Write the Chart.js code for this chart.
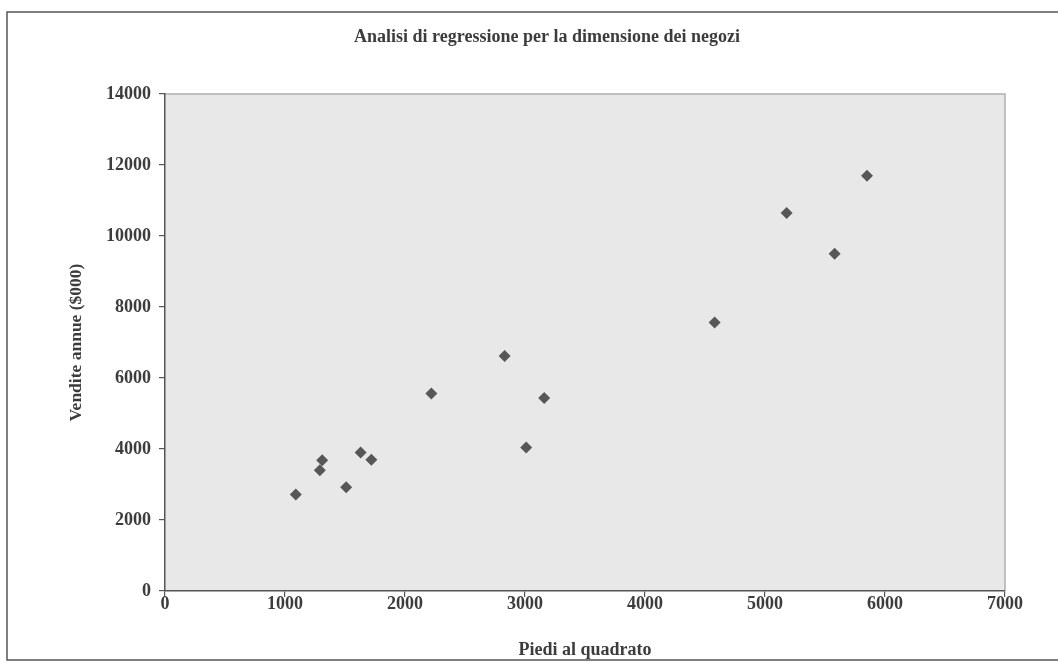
<!DOCTYPE html>
<html>
<head>
<meta charset="utf-8">
<script src="https://cdn.jsdelivr.net/npm/chart.js@4/dist/chart.umd.min.js"></script>
<style>
  html, body { margin: 0; padding: 0; background: #ffffff; }
  #wrap { width: 1058px; height: 665px; position: relative; }
</style>
</head>
<body>
<div id="wrap"><canvas id="chart" width="1058" height="665"></canvas></div>
<script>
// Store size (square feet) and annual sales ($000) for each store
const squareFeet = [1720, 1630, 2830, 5580, 1290, 2220, 1310, 1090, 3160, 1510, 5180, 4580, 5850, 3010];
const annualSales = [3700, 3900, 6620, 9500, 3400, 5560, 3680, 2720, 5440, 2920, 10650, 7560, 11700, 4040];

// Axis ranges and tick steps
const xTicks = { min: 0, max: 7000, step: 1000 };
const yTicks = { min: 0, max: 14000, step: 2000 };

const chartTitle = 'Analisi di regressione per la dimensione dei negozi';
const xTitle = 'Piedi al quadrato';
const yTitle = 'Vendite annue ($000)';

const points = squareFeet.map((x, i) => ({ x: x, y: annualSales[i] }));

const serif = "'Liberation Serif', 'Times New Roman', serif";
const ink = '#3c3c3c';

// Outer frame, grey plot background and the light top/right plot border
const framePlugin = {
  id: 'frame',
  beforeDraw(chart) {
    const { ctx, chartArea: a } = chart;
    ctx.save();
    ctx.fillStyle = '#ffffff';
    ctx.fillRect(0, 0, chart.width, chart.height);
    ctx.strokeStyle = '#555555';
    ctx.lineWidth = 1.5;
    ctx.strokeRect(7, 12, chart.width + 10, 648);
    ctx.fillStyle = '#e8e8e8';
    ctx.fillRect(a.left, a.top, a.right - a.left, a.bottom - a.top);
    ctx.strokeStyle = '#b0b0b0';
    ctx.lineWidth = 1.5;
    ctx.beginPath();
    ctx.moveTo(a.left, a.top);
    ctx.lineTo(a.right, a.top);
    ctx.lineTo(a.right, a.bottom);
    ctx.stroke();
    ctx.restore();
  }
};

new Chart(document.getElementById('chart'), {
  type: 'scatter',
  data: {
    datasets: [{
      label: 'Vendite annue',
      data: points,
      pointStyle: 'rectRot',
      pointRadius: 6,
      pointHoverRadius: 6,
      backgroundColor: '#575757',
      borderColor: '#575757',
      borderWidth: 0
    }]
  },
  options: {
    responsive: false,
    animation: false,
    layout: { padding: { left: 89, right: 53, top: 0, bottom: 0 } },
    plugins: {
      legend: { display: false },
      tooltip: { enabled: false },
      title: {
        display: true,
        text: chartTitle,
        color: ink,
        font: { family: serif, size: 18, weight: 'bold' },
        padding: { top: 26.2, bottom: 46.2 }
      }
    },
    scales: {
      x: {
        type: 'linear',
        min: xTicks.min,
        max: xTicks.max,
        afterFit(scale) { scale.height = 74; },
        ticks: {
          stepSize: xTicks.step,
          color: ink,
          padding: -3,
          font: { family: serif, size: 18, weight: 'bold' },
          callback: v => String(v)
        },
        grid: { drawOnChartArea: false, drawTicks: true, tickLength: 6, color: '#555555', lineWidth: 1.2 },
        border: { color: '#555555', width: 1.5 },
        title: {
          display: true,
          text: xTitle,
          color: ink,
          font: { family: serif, size: 18, weight: 'bold' },
          padding: { top: 0, bottom: 4.2 }
        }
      },
      y: {
        type: 'linear',
        min: yTicks.min,
        max: yTicks.max,
        afterFit(scale) { scale.width = 76; },
        ticks: {
          stepSize: yTicks.step,
          color: ink,
          padding: 8,
          font: { family: serif, size: 18, weight: 'bold' },
          callback: v => String(v)
        },
        grid: { drawOnChartArea: false, drawTicks: true, tickLength: 6, color: '#555555', lineWidth: 1.2 },
        border: { color: '#555555', width: 1.5 },
        title: {
          display: true,
          text: yTitle,
          color: ink,
          font: { family: serif, size: 17.5, weight: 'bold' },
          padding: { top: -23.5, bottom: 0 }
        }
      }
    }
  },
  plugins: [framePlugin]
});
</script>
</body>
</html>
